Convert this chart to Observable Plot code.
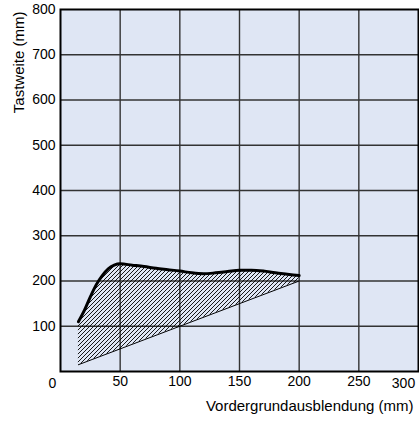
<!DOCTYPE html>
<html>
<head>
<meta charset="utf-8">
<script src="https://cdn.jsdelivr.net/npm/d3@7"></script>
<script src="https://cdn.jsdelivr.net/npm/@observablehq/plot@0.6"></script>
<style>
  html, body { margin: 0; padding: 0; background: #fff; }
  #chart { width: 419px; height: 421px; }
</style>
</head>
<body>
<div id="chart"></div>
<script>
// Upper boundary (max. sensing range) — thick curve
const upperX = [15, 20, 25, 30, 35, 40, 45, 50, 60, 70, 80, 90, 100, 110, 120, 130, 140, 150, 160, 170, 180, 190, 200];
const upperY = [110, 135, 165, 192, 212, 227, 235, 238, 235, 232, 228, 225, 222, 218, 216, 218, 221, 224, 224, 222, 218, 215, 212];
// Lower boundary — thin line
const lowerX = [15, 200];
const lowerY = [15, 200];
// Axis ticks
const xTicks = [0, 50, 100, 150, 200, 250, 300];
const yTicks = [100, 200, 300, 400, 500, 600, 700, 800];
const xLabel = "Vordergrundausblendung (mm)";
const yLabel = "Tastweite (mm)";

const lowerAt = (x) => lowerY[0] + (lowerY[1] - lowerY[0]) * (x - lowerX[0]) / (lowerX[1] - lowerX[0]);
const band = upperX.map((x, i) => ({x, y1: lowerAt(x), y2: upperY[i]}));
const upper = upperX.map((x, i) => ({x, y: upperY[i]}));
const lower = lowerX.map((x, i) => ({x, y: lowerY[i]}));

const font = "'Liberation Sans', Arial, Helvetica, sans-serif";

const plot = Plot.plot({
  width: 419,
  height: 421,
  marginLeft: 60,
  marginRight: 1,
  marginTop: 9,
  marginBottom: 50,
  style: {fontFamily: font, color: "#000", background: "#fff"},
  x: {domain: [0, 300]},
  y: {domain: [0, 800]},
  marks: [
    Plot.frame({fill: "#dfe6f4", stroke: null}),
    Plot.gridX(xTicks.slice(1, -1), {stroke: "#333", strokeOpacity: 1, strokeWidth: 1.4}),
    Plot.gridY(yTicks.slice(0, -1), {stroke: "#333", strokeOpacity: 1, strokeWidth: 1.4}),
    Plot.areaY(band, {x: "x", y1: "y1", y2: "y2", fill: "url(#hatch)", curve: "monotone-x"}),
    Plot.line(lower, {x: "x", y: "y", stroke: "#000", strokeWidth: 1}),
    Plot.line(upper, {x: "x", y: "y", stroke: "#000", strokeWidth: 3, curve: "monotone-x"}),
    Plot.frame({stroke: "#000", strokeWidth: 2}),
    Plot.axisY(yTicks, {tickSize: 0, tickPadding: 5, label: null, fontSize: 14}),
    Plot.axisX(xTicks.slice(1, -1), {tickSize: 0, tickPadding: 5, label: null, fontSize: 14}),
    Plot.text([xTicks[0]], {x: d => d, y: 0, text: d => String(d), dx: -8, dy: 12, fontSize: 14}),
    Plot.text([xTicks[xTicks.length - 1]], {x: d => d, y: 0, text: d => String(d), dx: -15, dy: 12, fontSize: 14}),
    Plot.text([xLabel], {frameAnchor: "bottom-right", text: d => d, textAnchor: "end", dx: -5, dy: 39, fontSize: 15}),
    Plot.text([yLabel], {frameAnchor: "top-left", text: d => d, rotate: -90, textAnchor: "end", dx: -47, dy: 2, fontSize: 15})
  ]
});

// hatch pattern definition: "/" diagonals, 4px horizontal period
const ns = "http://www.w3.org/2000/svg";
const defs = document.createElementNS(ns, "defs");
const pat = document.createElementNS(ns, "pattern");
pat.setAttribute("id", "hatch");
pat.setAttribute("patternUnits", "userSpaceOnUse");
pat.setAttribute("width", "4");
pat.setAttribute("height", "4");
const p = document.createElementNS(ns, "path");
p.setAttribute("d", "M0,4L4,0M-1,1L1,-1M3,5L5,3");
p.setAttribute("stroke", "#000");
p.setAttribute("stroke-width", "0.9");
pat.appendChild(p);
defs.appendChild(pat);
plot.insertBefore(defs, plot.firstChild);

document.getElementById("chart").appendChild(plot);
</script>
</body>
</html>
